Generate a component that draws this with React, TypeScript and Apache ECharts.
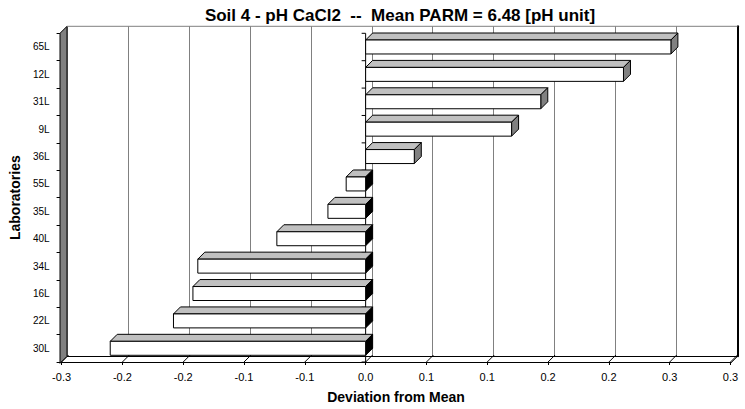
import React, { useEffect, useRef } from "react";
import * as echarts from "echarts";

const labs = ["65L", "12L", "31L", "9L", "36L", "55L", "35L", "40L", "34L", "16L", "22L", "30L"];
const vals = [0.251, 0.212, 0.144, 0.12, 0.04, -0.016, -0.031, -0.073, -0.138, -0.142, -0.158, -0.21];
const tickLabels = ["-0.3", "-0.2", "-0.2", "-0.1", "-0.1", "0.0", "0.1", "0.1", "0.2", "0.2", "0.3", "0.3"];
const xMin = -0.25;
const xMax = 0.3;
const xStep = 0.05;

const FONT = "'Liberation Sans', Arial, sans-serif";
const FL = 60, FT = 33.3, FW = 670.5, FH = 330;
const D = 7;

export default function App() {
  const ref = useRef<HTMLDivElement>(null);
  useEffect(() => {
    const chart = echarts.init(ref.current!, null, { renderer: "svg" });
    const tickVals = tickLabels.map((_, k) => xMin + k * xStep);
    const fmt = (v: number) => tickLabels[Math.round((v - xMin) / xStep)] ?? "";
    const barData = vals.map((v, i) => [v, i]);
    chart.setOption({
      animation: false,
      backgroundColor: "#fff",
      title: {
        text: "Soil 4 - pH CaCl2 \u00a0-- \u00a0Mean PARM = 6.48 [pH unit]",
        left: 395,
        textAlign: "center",
        top: 2,
        textStyle: { fontFamily: FONT, fontSize: 17, fontWeight: "bold", color: "#000" },
      },
      grid: [
        { left: FL, top: FT, width: FW, height: FH },
        { left: FL + D, top: FT - D, width: FW, height: FH },
      ],
      xAxis: [
        {
          type: "value", gridIndex: 0, min: xMin, max: xMax, interval: xStep,
          axisLine: { show: true, onZero: false, lineStyle: { color: "#000", width: 1 } },
          axisTick: { show: true, length: 3, lineStyle: { color: "#000" } },
          splitLine: { show: false },
          axisLabel: { formatter: fmt, fontFamily: FONT, fontSize: 11, color: "#000", margin: 9 },
          name: "Deviation from Mean", nameLocation: "middle", nameGap: 28,
          nameTextStyle: { fontFamily: FONT, fontSize: 14, fontWeight: "bold", color: "#000" },
        },
        {
          type: "value", gridIndex: 1, min: xMin, max: xMax, interval: xStep,
          axisLine: { show: true, onZero: false, lineStyle: { color: "#000", width: 1 } },
          axisTick: { show: false }, axisLabel: { show: false },
          splitLine: { show: true, lineStyle: { color: "#808080", width: 1 } },
        },
      ],
      yAxis: [
        {
          type: "category", gridIndex: 0, data: labs, inverse: true,
          axisLine: { show: true, onZero: false, lineStyle: { color: "#000" } },
          axisTick: { show: true, length: 5, lineStyle: { color: "#000" } },
          axisLabel: { fontFamily: FONT, fontSize: 10, color: "#000", margin: 12 },
          name: "Laboratories", nameLocation: "middle", nameGap: 30, nameRotate: 90,
          nameTextStyle: { fontFamily: FONT, fontSize: 14, fontWeight: "bold", color: "#000" },
        },
        {
          type: "category", gridIndex: 1, data: labs, inverse: true, position: "right",
          axisLine: { show: true, onZero: false, lineStyle: { color: "#000", width: 2 } },
          axisTick: { show: false }, axisLabel: { show: false },
        },
      ],
      graphic: [
        {
          type: "polygon", z: 10,
          shape: { points: [[FL, FT], [FL + D, FT - D], [FL + D, FT + FH - D], [FL, FT + FH]] },
          style: { fill: "#808080", stroke: "#000", lineWidth: 1 },
        },
        {
          type: "line", z: 10,
          shape: { x1: FL + D, y1: FT - D, x2: FL + D + FW, y2: FT - D },
          style: { stroke: "#808080", lineWidth: 1 },
        },
        {
          type: "line", z: 10,
          shape: { x1: FL + FW, y1: FT + FH, x2: FL + FW + D, y2: FT + FH - D },
          style: { stroke: "#000", lineWidth: 1 },
        },
      ],
      series: [
        {
          type: "custom", xAxisIndex: 0, yAxisIndex: 0,
          data: tickVals.map((v) => [v, 0]),
          renderItem: (params: any, api: any) => {
            const p = api.coord([api.value(0), 0]);
            const yb = params.coordSys.y + params.coordSys.height;
            return {
              type: "line",
              shape: { x1: p[0], y1: yb, x2: p[0] + D, y2: yb - D },
              style: { stroke: "#000", lineWidth: 1 },
            };
          },
          silent: true,
        },
        {
          type: "custom", xAxisIndex: 0, yAxisIndex: 0,
          data: [[0, 0]],
          renderItem: (params: any, api: any) => {
            const cs = params.coordSys;
            const x0 = api.coord([0, 0])[0];
            const band = api.size([0, 1])[1];
            const children: any[] = [
              { type: "line", shape: { x1: x0, y1: cs.y, x2: x0, y2: cs.y + cs.height }, style: { stroke: "#000", lineWidth: 1 } },
            ];
            for (let k = 0; k <= labs.length; k++) {
              const y = cs.y + k * band;
              children.push({ type: "line", shape: { x1: x0 - 4, y1: y, x2: x0, y2: y }, style: { stroke: "#000", lineWidth: 1 } });
            }
            return { type: "group", children };
          },
          silent: true,
        },
        {
          type: "custom", xAxisIndex: 0, yAxisIndex: 0,
          data: barData,
          encode: { x: 0, y: 1 },
          renderItem: (params: any, api: any) => {
            const v = api.value(0);
            const i = api.value(1);
            const p1 = api.coord([v, i]);
            const p0 = api.coord([0, i]);
            const band = api.size([0, 1])[1];
            const h = band * 0.51;
            const xl = Math.min(p0[0], p1[0]);
            const xr = Math.max(p0[0], p1[0]);
            const yt = p1[1] - h / 2;
            const yb = p1[1] + h / 2;
            return {
              type: "group",
              children: [
                { type: "polygon", shape: { points: [[xl, yt], [xl + D, yt - D], [xr + D, yt - D], [xr, yt]] }, style: { fill: "#c0c0c0", stroke: "#000", lineWidth: 1 } },
                { type: "polygon", shape: { points: [[xr, yt], [xr + D, yt - D], [xr + D, yb - D], [xr, yb]] }, style: { fill: v < 0 ? "#000" : "#808080", stroke: "#000", lineWidth: 1 } },
                { type: "rect", shape: { x: xl, y: yt, width: xr - xl, height: h }, style: { fill: "#fff", stroke: "#000", lineWidth: 1 } },
              ],
            };
          },
        },
      ],
    });
    return () => chart.dispose();
  }, []);
  return <div ref={ref} style={{ position: "absolute", left: 0, top: 0, width: 745, height: 409 }} />;
}
